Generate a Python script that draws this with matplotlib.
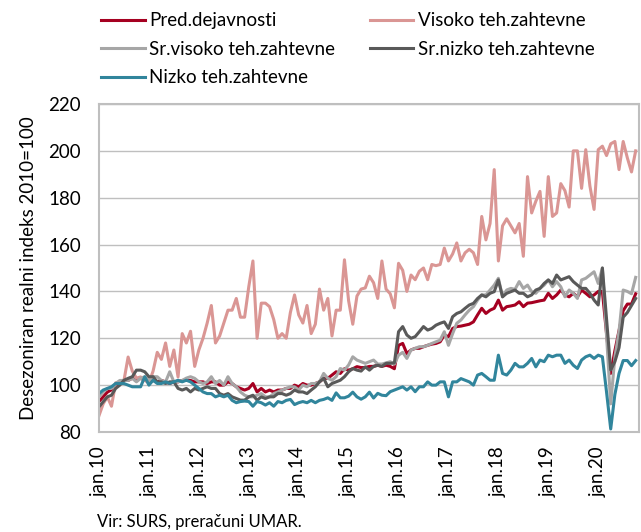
import numpy as np
import matplotlib.pyplot as plt

# mesecni podatki jan.2010 - okt.2020, indeks 2010=100
pred_dejavnosti = [
    93, 95, 97, 98, 100, 101.4, 102, 102, 103, 102, 103, 102,
    102, 102, 101.4, 102, 101.4, 100.7, 101.4, 101.4, 102, 102, 102, 101.4,
    101.4, 101.4, 100.7, 101.4, 101.4, 100, 100, 101.4, 100.7, 99.3, 98.6, 97.9,
    98.6, 100.7, 97.1, 98.6, 97.1, 97.9, 97.1, 97.9, 97.9, 98.6, 98.6, 100,
    99.3, 100.7, 100, 100, 100.7, 101.4, 102.9, 102.9, 104.3, 105.7, 105, 107,
    106.4, 107, 107.9, 107.5, 107.5, 108, 108, 108.5, 108, 108.5, 108, 107,
    117, 117.8, 113.5, 115, 115.7, 115.7, 116.4, 117, 117.5, 117.8, 118.5, 121.4,
    120.7, 124.2, 125, 125.2, 125.6, 126, 127, 130, 132.8, 130.6, 132, 132.8,
    136.3, 132, 133.5, 133.8, 134.2, 135.6, 133.5, 135, 135.2, 135.6, 136, 136.3,
    139.2, 137, 138.5, 140.6, 138.5, 137.7, 139.2, 137.7, 140.6, 139.2, 137.7, 138.5,
    140, 140, 122, 105, 114.7, 123.3, 131.8, 134.6, 134.6, 139]

visoko = [
    87, 92, 95, 91, 101, 101, 102, 112, 106, 103, 103.5, 102,
    101, 106, 114, 111, 118, 108, 115, 103.5, 122, 118, 123, 108,
    115, 120, 126.5, 134, 118, 121, 126.5, 132, 132, 137, 129, 129,
    142, 153, 120, 135, 135, 133.5, 128, 120, 122, 120, 131, 138.5,
    130, 126.5, 134, 122, 126, 141, 132, 137, 121, 132, 132, 153.5,
    136, 126, 138, 141, 141.5, 146.5, 143.7, 137, 153, 141, 139, 133,
    152, 149, 140, 147, 145, 148.6, 150, 145, 151.5, 151, 151.5, 158.5,
    153, 156, 160.7, 153, 156.5, 158, 156.5, 151.5, 172, 162, 169, 192,
    153, 168, 171, 168, 165, 169, 155, 189, 173.5, 178.5, 182.7, 163.5,
    189, 172, 173.5, 186, 183, 176, 200, 200, 184, 200.5, 185, 175,
    200.5, 202, 198, 203, 204, 192, 204, 197, 191, 200]

sr_visoko = [
    95, 97.1, 98.6, 98.6, 100.7, 102, 102, 102, 102.9, 101.4, 102.9, 103.6,
    102, 103.6, 103.6, 102, 101.4, 105.7, 101.4, 101.4, 102, 103, 103.6, 102.9,
    101.4, 100.7, 101.4, 103.6, 100.7, 102, 100, 103.6, 100.7, 99.3, 97.1, 95.7,
    95, 95, 95.7, 96.4, 95, 95, 96.4, 97.1, 97.9, 98.6, 99.3, 99.3,
    97.9, 100, 99.3, 100.7, 100.7, 101.4, 105, 102.9, 102.1, 103.6, 107.1, 106.4,
    108.6, 112.1, 110.7, 110, 109.3, 110, 110.7, 109, 109, 109.5, 110, 109,
    112.8, 114, 111.4, 115, 115.7, 116.4, 116.4, 117, 117.8, 118.5, 119.2, 122.8,
    117, 122, 126.4, 127.8, 130, 132, 133.5, 136.3, 138.5, 138.5, 140.6, 142.7,
    145.6, 137.7, 140.6, 141.3, 140.9, 144.2, 141.3, 142.7, 139.9, 139.2, 141.3, 142.7,
    144.9, 142, 144.2, 142, 137.7, 140.6, 139.2, 137, 144.9, 145.6, 147, 148.4,
    143.4, 150, 121, 92, 112, 123, 140.6, 140, 139, 146]

sr_nizko = [
    90.7, 92.9, 95, 95.7, 98.6, 100, 102.1, 102.9, 103.6, 106.4, 106.4, 105.7,
    103.6, 103.6, 101.4, 101.4, 100.7, 101.4, 101.4, 98.6, 97.9, 98.6, 97.1, 98.6,
    97.9, 98.6, 99.3, 98.6, 98.6, 96.4, 95.7, 96.4, 95, 94.3, 93.6, 93.6,
    95, 95.7, 93.6, 95, 94.3, 95, 95, 96.4, 96.4, 95.7, 96.4, 97.9,
    97.1, 97.1, 96.4, 97.9, 99.3, 101.4, 102.9, 99.3, 100.7, 101.4, 102.1, 103.6,
    105.7, 107.1, 106.4, 106, 107.8, 106.4, 108, 108.5, 108, 109.3, 109.3, 109.5,
    122.8, 125, 121.4, 120, 120.7, 122.8, 125, 123.5, 124.2, 125.6, 126.4, 127,
    124.2, 129.2, 130.6, 131.3, 132.8, 134.2, 134.9, 137, 138.5, 137.7, 139.2, 139.9,
    144.9, 137.7, 139.2, 139.9, 140.6, 139.2, 139.2, 137.7, 138.5, 140.6, 141.3, 143.4,
    144.9, 143.4, 147, 144.9, 145.6, 146.3, 144.2, 142.7, 141.3, 141.3, 139.2, 136.3,
    134.2, 150, 128, 106.5, 110, 116, 129, 131, 134, 137]

nizko = [
    96.4, 97.9, 98.6, 99.3, 100.7, 100.7, 100.7, 100, 99.3, 99.3, 99.3, 103.6,
    100, 102.1, 100.7, 100.7, 101.4, 100.7, 101.4, 102.1, 101.4, 102.1, 101.4, 100,
    98.6, 97.1, 96.4, 96.4, 95, 95.7, 95, 95.7, 93.5, 92.5, 93, 93.2,
    93, 91, 93, 92.5, 91.5, 92.5, 91, 93, 92.5, 93.5, 93.9, 91.7,
    92.5, 93, 92.5, 93.5, 92.5, 93.5, 93.9, 94.6, 93.5, 96.7, 94.6, 94.6,
    95.3, 97, 95, 94, 95, 97, 94.5, 96.5, 95.7, 95.5, 97.2, 97.9,
    98.6, 99.3, 97.9, 99.3, 97.2, 99.3, 99.3, 101.4, 100, 100, 101.4, 101.4,
    95, 101.4, 101.4, 102.8, 102.1, 101.4, 100, 104.3, 105, 103.6, 102.1, 102.1,
    112.8, 105, 104.3, 106.4, 109.3, 107.8, 107.8, 109.3, 111.4, 107.8, 110.7, 110,
    112.8, 112.1, 112.8, 112.8, 109.3, 110.7, 108.5, 107.1, 110.7, 112.1, 112.8, 111.4,
    112.8, 112.1, 97, 81.3, 96, 105, 110.5, 110.5, 108.3, 110.5]

tick_labels = ["jan.10", "jan.11", "jan.12", "jan.13", "jan.14", "jan.15",
               "jan.16", "jan.17", "jan.18", "jan.19", "jan.20"]

imena = ["Pred.dejavnosti", "Visoko teh.zahtevne", "Sr.visoko teh.zahtevne",
         "Sr.nizko teh.zahtevne", "Nizko teh.zahtevne"]
barve = ["#A50021", "#DA9694", "#A6A6A6", "#595959", "#31859C"]

plt.rcParams['font.family'] = ['Lato', 'DejaVu Sans']
fs = 13.5

fig = plt.figure(figsize=(6.41, 5.32), dpi=100)
ax = fig.add_axes([99/641, 1 - 432/532, 540/641, 328/532])

x = np.arange(len(pred_dejavnosti))
serije = [pred_dejavnosti, visoko, sr_visoko, sr_nizko, nizko]
crte = []
for s, ime, b in zip(serije, imena, barve):
    l, = ax.plot(x, s, color=b, lw=2.2, label=ime, solid_joinstyle='round')
    crte.append(l)

ax.set_xlim(0, 129.8)
ax.set_ylim(80, 220)
ax.set_yticks(np.arange(80, 221, 20))
ax.set_xticks(np.arange(0, 121, 12))
ax.set_xticklabels(tick_labels, rotation=90)
ax.tick_params(axis='both', length=0, labelsize=fs)
ax.tick_params(axis='y', pad=13)
ax.tick_params(axis='x', pad=10)
ax.grid(axis='y', color='#BFBFBF', lw=1)
ax.set_axisbelow(True)
for sp in ax.spines.values():
    sp.set_color('#BFBFBF')
    sp.set_linewidth(1.5)

ax.set_ylabel("Desezoniran realni indeks 2010=100", fontsize=fs, labelpad=8)

# legenda v dveh stolpcih (vrstni red po vrsticah)
red = [0, 2, 4, 1, 3]
fig.legend([crte[i] for i in red], [imena[i] for i in red], ncol=2,
           loc='upper left', bbox_to_anchor=(0.132, 1.009), frameon=False,
           fontsize=fs, handlelength=2.3, handletextpad=0.25,
           columnspacing=1.85, labelspacing=0.62)

fig.text(97/641, 1 - 522/532, "Vir: SURS, preračuni UMAR.", fontsize=12,
         va='center', ha='left')

fig.savefig("out.png", dpi=100)
